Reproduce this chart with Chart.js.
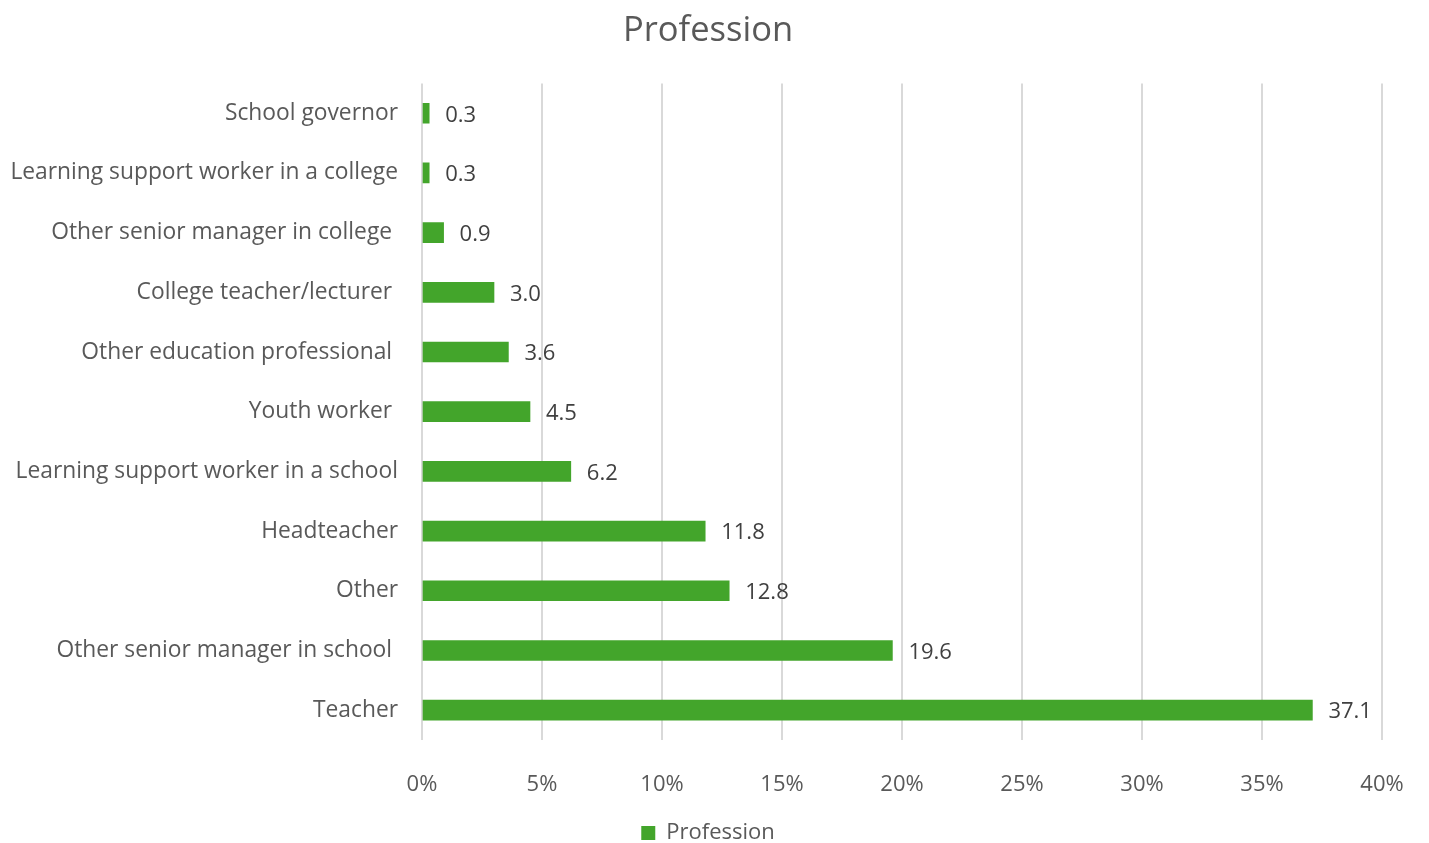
<!DOCTYPE html>
<html>
<head>
<meta charset="utf-8">
<script src="https://cdn.jsdelivr.net/npm/chart.js@4/dist/chart.umd.min.js"></script>
<style>
  html, body { margin: 0; padding: 0; background: #fff; }
  #wrap { width: 1429px; height: 843px; }
</style>
</head>
<body>
<div id="wrap"><canvas id="chart" width="1429" height="843"></canvas></div>
<script>
const professions = [
    'School governor',
    'Learning support worker in a college',
    'Other senior manager in college ',
    'College teacher/lecturer ',
    'Other education professional ',
    'Youth worker ',
    'Learning support worker in a school',
    'Headteacher',
    'Other',
    'Other senior manager in school ',
    'Teacher'
];
const percentages = [0.3, 0.3, 0.9, 3.0, 3.6, 4.5, 6.2, 11.8, 12.8, 19.6, 37.1];
const xTicks = [0, 5, 10, 15, 20, 25, 30, 35, 40];

const FONT = "'Open Sans', 'Noto Sans', sans-serif";
const GREEN = '#43a52b';

// write the value next to the end of each bar
const valeursPlugin = {
    id: 'valeurs',
    afterDatasetsDraw(chart) {
        const ctx = chart.ctx;
        const meta = chart.getDatasetMeta(0);
        ctx.save();
        ctx.font = '22px ' + FONT;
        ctx.fillStyle = '#404040';
        ctx.textAlign = 'left';
        ctx.textBaseline = 'middle';
        meta.data.forEach((bar, i) => {
            ctx.fillText(percentages[i].toFixed(1), bar.x + 16, bar.y + 2);
        });
        ctx.restore();
    }
};

new Chart(document.getElementById('chart'), {
    type: 'bar',
    data: {
        labels: professions,
        datasets: [{
            label: 'Profession',
            data: percentages,
            backgroundColor: GREEN,
            borderWidth: 0,
            barThickness: 20
        }]
    },
    options: {
        indexAxis: 'y',
        responsive: false,
        animation: false,
        layout: { padding: { left: 12, right: 25, top: 0, bottom: -11 } },
        scales: {
            x: {
                min: 0,
                max: 40,
                afterBuildTicks: (axis) => { axis.ticks = xTicks.map(v => ({ value: v })); },
                afterFit: (axis) => {
                    axis.height = 72;
                    axis.paddingLeft = 0;
                    axis.paddingRight = 47;
                },
                ticks: {
                    callback: (v) => v + '%',
                    color: '#595959',
                    font: { family: FONT, size: 22 },
                    padding: 32
                },
                grid: { color: '#d9d9d9', lineWidth: 2, drawTicks: false },
                border: { display: false }
            },
            y: {
                afterFit: (axis) => { axis.width = 410; },
                ticks: {
                    color: '#595959',
                    font: { family: FONT, size: 22.8 },
                    padding: 24
                },
                grid: { display: false, drawTicks: false },
                border: { display: false }
            }
        },
        plugins: {
            title: {
                display: true,
                text: 'Profession',
                color: '#595959',
                font: { family: FONT, size: 34.5, weight: 'normal' },
                padding: { top: 10, bottom: 32 }
            },
            legend: {
                position: 'bottom',
                labels: {
                    color: '#595959',
                    font: { family: FONT, size: 22 },
                    boxWidth: 14,
                    boxHeight: 14,
                    padding: 10
                }
            },
            tooltip: { enabled: false }
        }
    },
    plugins: [valeursPlugin]
});
</script>
</body>
</html>
